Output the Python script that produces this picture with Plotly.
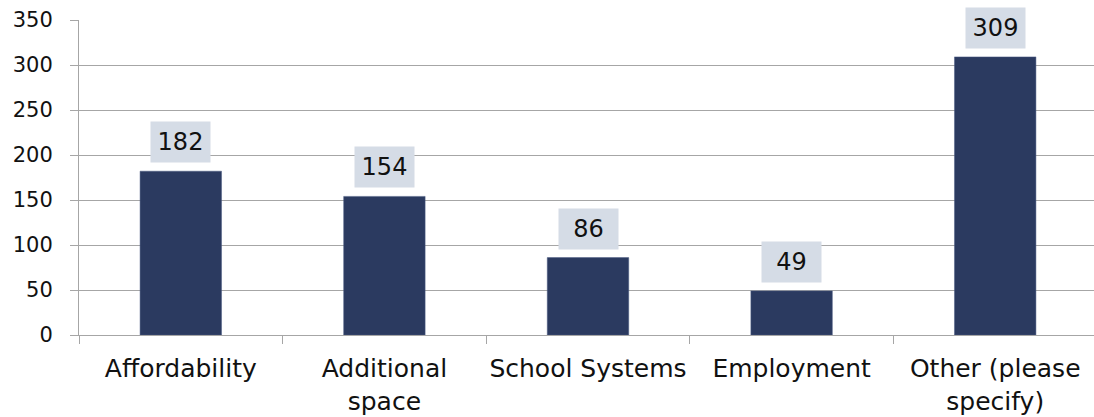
import plotly.graph_objects as go

# Chart data
categories = ["Affordability", "Additional<br>space", "School Systems", "Employment", "Other (please<br>specify)"]
counts = [182, 154, 86, 49, 309]
y_ticks = [0, 50, 100, 150, 200, 250, 300, 350]

font_name = "DejaVu Sans, sans-serif"

fig = go.Figure()
fig.add_trace(go.Bar(x=categories, y=counts, marker_color="#2B3A60",
                     marker_line_color="#4A5A80", marker_line_width=0.5))

# data labels with light boxes
for cat, val in zip(categories, counts):
    fig.add_annotation(x=cat, y=val, text=str(val), showarrow=False,
                       yanchor="bottom", yshift=8, bgcolor="#D5DCE6",
                       width=47, height=28, borderpad=6,
                       font=dict(size=24, color="#111111", family=font_name))

# plot area runs a little past the right edge of the window, like the original
fig.update_layout(
    width=1097, height=417,
    margin=dict(l=79, r=0, t=20, b=82),
    plot_bgcolor="white", paper_bgcolor="white",
    bargap=0.6, showlegend=False,
    font=dict(family=font_name, size=22, color="#111111"),
)
fig.update_yaxes(range=[0, 350], tickvals=y_ticks, showgrid=True, gridcolor="#A6A6A6", gridwidth=1,
                 showline=True, linecolor="#A6A6A6", ticks="outside", ticklen=8, tickcolor="#A6A6A6",
                 zeroline=False, tickfont=dict(size=21), automargin=False, ticklabelstandoff=13)
fig.update_xaxes(showline=True, linecolor="#A6A6A6", ticks="outside", tickson="boundaries",
                 ticklen=8, tickcolor="#A6A6A6", tickfont=dict(size=25), automargin=False,
                 ticklabelstandoff=11, tickangle=0)

# drop the default body margin and scrollbars
fig.write_html("out.html", config={"displayModeBar": False},
               post_script="document.body.style.margin='0';document.body.style.overflow='hidden';")
